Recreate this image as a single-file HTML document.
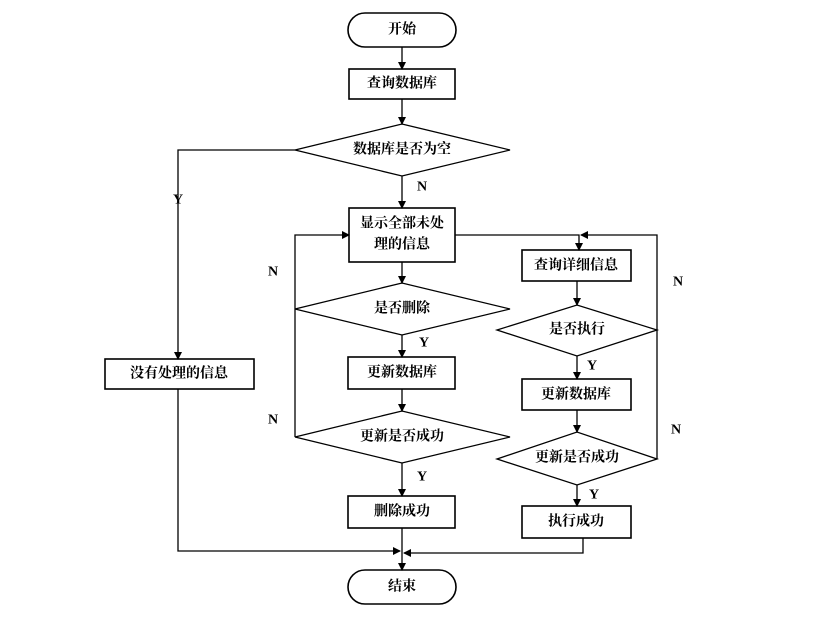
<!DOCTYPE html>
<html><head><meta charset="utf-8"><style>
body{margin:0;background:#fff}
svg text{font-family:"Liberation Serif","Noto Serif CJK SC",serif;font-size:14px;font-weight:bold;fill:#000;text-anchor:middle;dominant-baseline:central}
</style></head><body>
<svg width="825" height="618" viewBox="0 0 825 618" xmlns="http://www.w3.org/2000/svg">
<defs><marker id="a" markerWidth="8" markerHeight="8" refX="7" refY="4" orient="auto" markerUnits="userSpaceOnUse"><path d="M0,0 L8,4 L0,8z" fill="#000"/></marker></defs>
<g stroke="#000" stroke-width="1.3" fill="none">
<g stroke-width="1.6">
<rect x="348" y="13" width="108" height="34" rx="17" fill="#fff"/>
<rect x="349" y="69" width="106" height="30"/>
<rect x="349" y="208" width="106" height="54"/>
<rect x="348" y="357" width="107" height="32"/>
<rect x="348" y="496" width="107" height="32"/>
<rect x="105" y="359" width="149" height="30"/>
<rect x="522" y="250" width="109" height="31"/>
<rect x="522" y="379" width="109" height="31"/>
<rect x="522" y="506" width="109" height="32"/>
<rect x="348" y="570" width="108" height="34" rx="17"/>
</g>
<polygon points="295,150 402,124 510,150 402,176"/>
<polygon points="295,309 402,283 510,309 402,335"/>
<polygon points="295,437 402,411 510,437 402,463"/>
<polygon points="497,330 577,305 657,330 577,356"/>
<polygon points="497,459 577,432 657,459 577,485"/>
<g marker-end="url(#a)">
<line x1="402" y1="47" x2="402" y2="69"/>
<line x1="402" y1="99" x2="402" y2="124"/>
<line x1="402" y1="176" x2="402" y2="208"/>
<line x1="402" y1="262" x2="402" y2="283"/>
<line x1="402" y1="335" x2="402" y2="357"/>
<line x1="402" y1="389" x2="402" y2="411"/>
<line x1="402" y1="463" x2="402" y2="496"/>
<line x1="402" y1="528" x2="402" y2="570"/>
<polyline points="295,150 178,150 178,359"/>
<polyline points="178,389 178,551 400,551"/>
<polyline points="583,538 583,553 404,553"/>
<polyline points="295,309 295,235 349,235"/>
<polyline points="455,235 579,235 579,250"/>
<polyline points="657,330 657,235 581,235"/>
<line x1="577" y1="281" x2="577" y2="305"/>
<line x1="577" y1="356" x2="577" y2="379"/>
<line x1="577" y1="410" x2="577" y2="432"/>
<line x1="577" y1="485" x2="577" y2="506"/>
</g>
<line x1="295" y1="437" x2="295" y2="309"/>
<line x1="657" y1="459" x2="657" y2="330"/>
</g>
<text x="402" y="30">开始</text>
<text x="402" y="84">查询数据库</text>
<text x="402" y="150">数据库是否为空</text>
<text x="402" y="224">显示全部未处</text>
<text x="402" y="245">理的信息</text>
<text x="402" y="309">是否删除</text>
<text x="402" y="373">更新数据库</text>
<text x="402" y="437">更新是否成功</text>
<text x="402" y="512">删除成功</text>
<text x="179" y="374">没有处理的信息</text>
<text x="576" y="266">查询详细信息</text>
<text x="577" y="330">是否执行</text>
<text x="576" y="395">更新数据库</text>
<text x="577" y="458">更新是否成功</text>
<text x="576" y="522">执行成功</text>
<text x="402" y="587">结束</text>
<text x="178" y="200">Y</text>
<text x="422" y="187">N</text>
<text x="273" y="272">N</text>
<text x="273" y="420">N</text>
<text x="678" y="282">N</text>
<text x="676" y="430">N</text>
<text x="424" y="343">Y</text>
<text x="592" y="366">Y</text>
<text x="422" y="477">Y</text>
<text x="594" y="495">Y</text>
</svg>
</body></html>
